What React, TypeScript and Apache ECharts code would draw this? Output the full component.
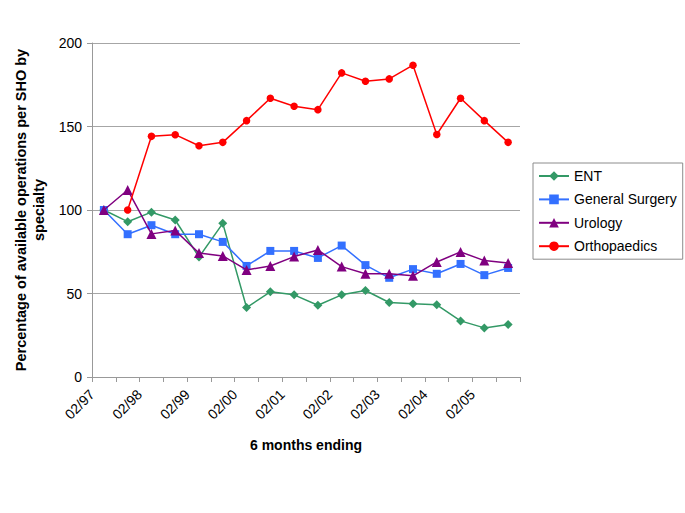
import React, { useEffect, useRef } from "react";
import * as echarts from "echarts";

const xTickLabels = ["02/97", "02/98", "02/99", "02/00", "02/01", "02/02", "02/03", "02/04", "02/05"];
const yTicks = [0, 50, 100, 150, 200];

const entValues = [100, 93, 98.7, 94, 71.8, 92, 41.6, 51, 49.2, 43, 49.2, 51.8, 44.6, 43.8, 43.2, 33.6, 29.4, 31.4];
const generalSurgeryValues = [100, 85.5, 90.9, 85.5, 85.5, 80.9, 66.5, 75.5, 75.5, 71.3, 78.7, 67, 59.4, 64.6, 61.8, 67.7, 61, 65.3];
const urologyValues = [100, 112, 85.7, 87.7, 74.2, 72.5, 64.1, 66.5, 72.1, 76.1, 66.1, 61.8, 61.8, 60.6, 68.9, 74.9, 69.7, 68.2];
const orthopaedicsValues: (number | null)[] = [null, 100, 144.1, 145.1, 138.5, 140.5, 153.5, 166.9, 162.1, 160.1, 182.1, 177.1, 178.5, 186.7, 145.2, 166.9, 153.5, 140.5];

const seriesNames = ["ENT", "General Surgery", "Urology", "Orthopaedics"];
const seriesColors = ["#339966", "#3370ff", "#800080", "#ff0000"];

const FONT = "'Liberation Sans', Arial, sans-serif";

function toPoints(vals: (number | null)[]) {
  const pts: [number, number][] = [];
  vals.forEach((v, i) => {
    if (v !== null) pts.push([i + 0.5, v]);
  });
  return pts;
}

export default function App() {
  const ref = useRef<HTMLDivElement>(null);
  useEffect(() => {
    if (!ref.current) return;
    const chart = echarts.init(ref.current, undefined, { renderer: "svg" });
    const all = [entValues, generalSurgeryValues, urologyValues, orthopaedicsValues];
    const symbols = ["diamond", "rect", "triangle", "circle"];
    const sizes = [9, 8, 10, 7.5];
    chart.setOption({
      animation: false,
      backgroundColor: "#ffffff",
      textStyle: { fontFamily: FONT },
      grid: { left: 92, top: 43, width: 428, height: 334, containLabel: false },
      legend: {
        orient: "vertical",
        left: 533,
        top: 163,
        padding: [6, 6, 6, 5],
        itemGap: 9.4,
        itemWidth: 30,
        itemHeight: 12,
        borderColor: "#8c8c8c",
        borderWidth: 1,
        borderRadius: 0,
        textStyle: { fontFamily: FONT, fontSize: 14, color: "#000", lineHeight: 14 },
        data: seriesNames,
      },
      xAxis: {
        type: "value",
        min: 0,
        max: 18,
        interval: 1,
        name: "6 months ending",
        nameLocation: "middle",
        nameGap: 61,
        nameTextStyle: { fontFamily: FONT, fontSize: 14, fontWeight: "bold", color: "#000" },
        axisLine: { show: true, lineStyle: { color: "#999", width: 1 } },
        axisTick: { show: true, length: 5, lineStyle: { color: "#999" } },
        splitLine: { show: false },
        axisLabel: {
          rotate: 45,
          margin: 15,
          fontSize: 14,
          color: "#000",
          fontFamily: FONT,
          showMaxLabel: true,
          formatter: (v: number) => (v % 2 === 0 && v / 2 < xTickLabels.length ? xTickLabels[v / 2] : ""),
        },
      },
      yAxis: {
        type: "value",
        min: yTicks[0],
        max: yTicks[yTicks.length - 1],
        interval: 50,
        name: "Percentage of available operations per SHO by\nspecialty",
        nameLocation: "middle",
        nameGap: 41,
        nameTextStyle: { fontFamily: FONT, fontSize: 14.5, fontWeight: "bold", color: "#000", lineHeight: 18, align: "center" },
        axisLine: { show: true, lineStyle: { color: "#999", width: 1 } },
        axisTick: { show: true, length: 5, lineStyle: { color: "#999" } },
        splitLine: { show: true, lineStyle: { color: "#a6a6a6", width: 1 } },
        axisLabel: { margin: 10, fontSize: 14, color: "#000", fontFamily: FONT },
      },
      series: all.map((vals, k) => ({
        name: seriesNames[k],
        type: "line",
        data: toPoints(vals),
        symbol: symbols[k],
        symbolSize: sizes[k],
        color: seriesColors[k],
        lineStyle: { color: seriesColors[k], width: 1.5 },
        itemStyle: { color: seriesColors[k] },
        z: k === 3 ? 5 : 2 + k,
      })),
    });
    return () => chart.dispose();
  }, []);
  return <div ref={ref} style={{ position: "fixed", left: 0, top: 0, width: 685, height: 513 }} />;
}
